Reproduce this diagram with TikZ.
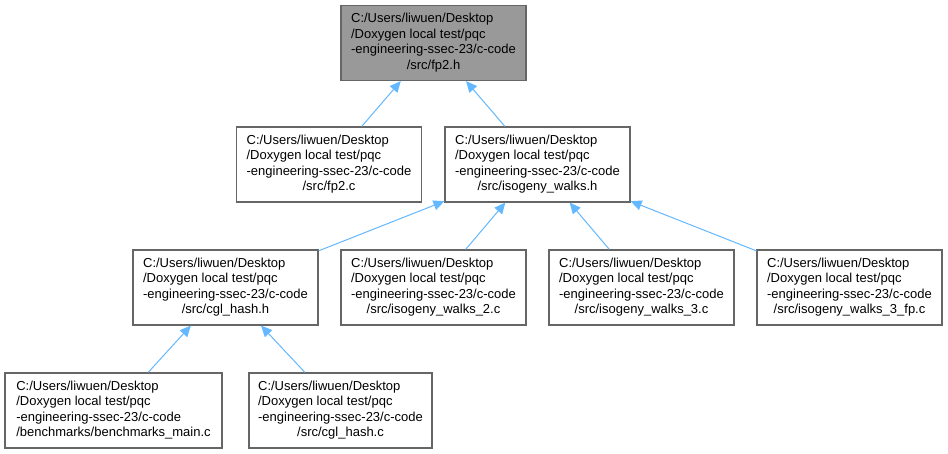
\documentclass[tikz,border=0pt]{standalone}
\usepackage{fontspec}
\setmainfont{Liberation Sans}
\usetikzlibrary{arrows.meta}
\definecolor{edgeblue}{HTML}{63B8FF}
\definecolor{boxborder}{HTML}{666666}
\definecolor{topfill}{HTML}{999999}
\newcommand{\lbl}[4]{\begin{tabular}{@{}l@{}}#1\\#2\\#3\\\multicolumn{1}{@{}c@{}}{#4}\end{tabular}}
\begin{document}
\begin{tikzpicture}[x=1pt,y=-1pt,
  filebox/.style={draw=boxborder,line width=1.2pt,fill=white,minimum height=75pt,inner sep=0pt,
    font=\fontsize{13}{15.5}\selectfont,text=black},
  w185/.style={minimum width=185pt},
  dep/.style={draw=edgeblue,line width=1pt,-{Triangle[length=11pt,width=10pt]}}]
\useasboundingbox[fill=white] (0,0) rectangle (948,453);
\node[filebox,w185,fill=topfill] (fp2h) at (433.5,43) {\lbl{C:/Users/liwuen/Desktop}{/Doxygen local test/pqc}{-engineering-ssec-23/c-code}{/src/fp2.h}};
\node[filebox,w185] (fp2c) at (329,164.5) {\lbl{C:/Users/liwuen/Desktop}{/Doxygen local test/pqc}{-engineering-ssec-23/c-code}{/src/fp2.c}};
\node[filebox,w185] (iwh) at (537.5,164.5) {\lbl{C:/Users/liwuen/Desktop}{/Doxygen local test/pqc}{-engineering-ssec-23/c-code}{/src/isogeny\_walks.h}};
\node[filebox,w185] (cglh) at (225.5,287.5) {\lbl{C:/Users/liwuen/Desktop}{/Doxygen local test/pqc}{-engineering-ssec-23/c-code}{/src/cgl\_hash.h}};
\node[filebox,w185] (iw2) at (433.5,287.5) {\lbl{C:/Users/liwuen/Desktop}{/Doxygen local test/pqc}{-engineering-ssec-23/c-code}{/src/isogeny\_walks\_2.c}};
\node[filebox,w185] (iw3) at (641.5,287.5) {\lbl{C:/Users/liwuen/Desktop}{/Doxygen local test/pqc}{-engineering-ssec-23/c-code}{/src/isogeny\_walks\_3.c}};
\node[filebox,w185] (iw3fp) at (849.5,287.5) {\lbl{C:/Users/liwuen/Desktop}{/Doxygen local test/pqc}{-engineering-ssec-23/c-code}{/src/isogeny\_walks\_3\_fp.c}};
\node[filebox,minimum width=217pt] (bm) at (113.5,410.5) {\lbl{C:/Users/liwuen/Desktop}{/Doxygen local test/pqc}{-engineering-ssec-23/c-code}{/benchmarks/benchmarks\_main.c}};
\node[filebox,minimum width=183pt] (cglc) at (340.5,410.5) {\lbl{C:/Users/liwuen/Desktop}{/Doxygen local test/pqc}{-engineering-ssec-23/c-code}{/src/cgl\_hash.c}};
\draw[dep] (fp2c) -- (fp2h);
\draw[dep] (iwh) -- (fp2h);
\draw[dep] (cglh) -- (iwh);
\draw[dep] (iw2) -- (iwh);
\draw[dep] (iw3) -- (iwh);
\draw[dep] (iw3fp) -- (iwh);
\draw[dep] (bm) -- (cglh);
\draw[dep] (cglc) -- (cglh);
\end{tikzpicture}
\end{document}
